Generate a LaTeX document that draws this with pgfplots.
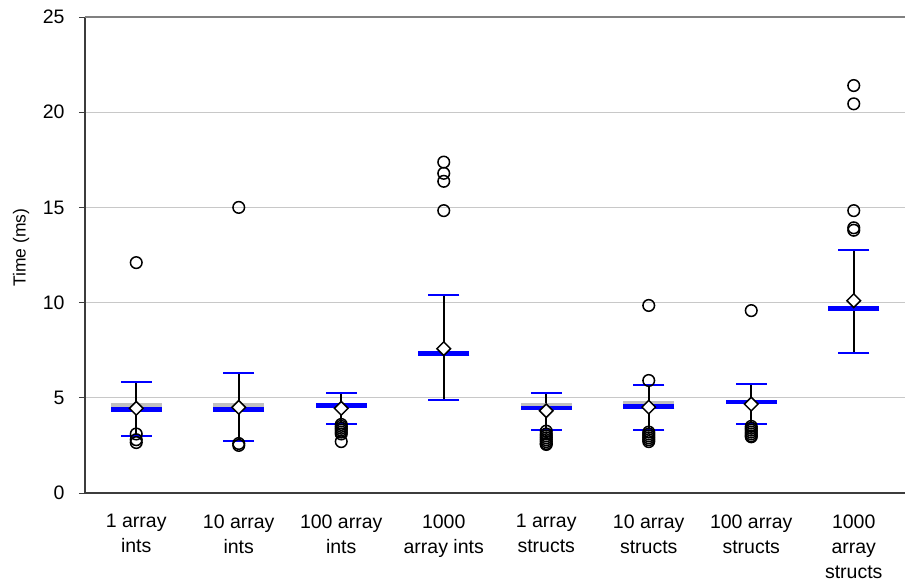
\documentclass[border=0pt]{standalone}
\usepackage{pgfplots}
\pgfplotsset{compat=1.18}
\usepackage{fontspec}
\setmainfont{Liberation Sans}
\definecolor{gridgray}{RGB}{200,200,200}
\definecolor{medgray}{RGB}{192,192,192}
\definecolor{axisdark}{RGB}{60,60,60}
\begin{document}
\begin{tikzpicture}
\begin{axis}[
  scale only axis, width=820pt, height=476pt,
  xmin=-0.5, xmax=7.5, ymin=0, ymax=25,
  ytick={0,5,10,15,20,25},
  xtick={0,1,2,3,4,5,6,7},
  xticklabels={{1 array\\ints},{10 array\\ints},{100 array\\ints},{1000\\array ints},{1 array\\structs},{10 array\\structs},{100 array\\structs},{1000\\array\\structs}},
  xtick style={draw=none},
  ytick pos=left,
  ytick style={draw=axisdark, line width=0.9pt},
  tick align=outside, major tick length=6pt,
  axis line style={draw=none},
  ymajorgrids, grid style={gridgray, line width=1pt},
  /pgf/number format/assume math mode=true,
  yticklabel style={font=\fontsize{19.5}{23}\selectfont, xshift=-11pt},
  xticklabel style={font=\fontsize{19.5}{25}\selectfont, align=center, yshift=-12pt},
  ylabel={Time (ms)},
  every axis y label/.style={at={(axis description cs:-0.078,0.515)}, rotate=90, anchor=center, font=\fontsize{17.5}{20}\selectfont},
  clip=false,
]
\draw[axisdark, line width=1.3pt] (rel axis cs:0,0) -- (rel axis cs:0,1);
\draw[gray, line width=1.4pt] (rel axis cs:0,1) -- (rel axis cs:1,1);
\draw[axisdark, line width=2pt] (rel axis cs:0,0) -- (rel axis cs:1,0);

% whiskers (bottom cap to top cap)
\addplot[black, line width=2pt, no marks, unbounded coords=jump] coordinates {
 (0,3.02) (0,5.81) (0,nan)
 (1,2.74) (1,6.28) (1,nan)
 (2,3.65) (2,5.25) (2,nan)
 (3,4.86) (3,10.4) (3,nan)
 (4,3.32) (4,5.26) (4,nan)
 (5,3.30) (5,5.68) (5,nan)
 (6,3.62) (6,5.72) (6,nan)
 (7,7.35) (7,12.77)
};

% gray bars
\addplot[only marks, mark=-, mark size=25.5pt, mark options={draw=medgray, line width=4.3pt}] coordinates {
 (0,4.62) (1,4.62) (4,4.60) (5,4.72)
};

% blue bars
\addplot[only marks, mark=-, mark size=25.5pt, mark options={draw=blue, line width=4.6pt}] coordinates {
 (0,4.39) (1,4.40) (2,4.60) (3,7.33) (4,4.46) (5,4.54) (6,4.77) (7,9.70)
};

% caps
\addplot[only marks, mark=-, mark size=15.5pt, mark options={draw=blue, line width=2pt}] coordinates {
 (0,5.81) (1,6.28) (2,5.25) (3,10.4) (4,5.26) (5,5.68) (6,5.72) (7,12.77)
 (0,3.02) (1,2.74) (2,3.65) (3,4.86) (4,3.32) (5,3.30) (6,3.62) (7,7.35)
};

% outliers
\addplot[only marks, mark=o, mark size=5.8pt, mark options={draw=black, line width=1.5pt}] coordinates {
 (0,12.1) (0,3.1) (0,2.8) (0,2.65)
 (1,15.0) (1,2.6) (1,2.5)
 (2,3.6) (2,3.5) (2,3.4) (2,3.3) (2,3.2) (2,3.1) (2,2.7)
 (3,17.38) (3,16.79) (3,16.37) (3,14.83)
 (4,3.25) (4,3.1) (4,3.0) (4,2.9) (4,2.8) (4,2.7) (4,2.6) (4,2.55)
 (5,9.85) (5,5.91) (5,3.2) (5,3.1) (5,3.0) (5,2.9) (5,2.8) (5,2.7)
 (6,9.58) (6,3.5) (6,3.4) (6,3.3) (6,3.2) (6,3.1) (6,3.0) (6,2.95)
 (7,21.4) (7,20.44) (7,14.83) (7,13.93) (7,13.8)
};

% means (diamonds)
\addplot[only marks, mark=square*, mark size=4.8pt, mark options={rotate=45, draw=black, fill=white, line width=1.5pt}] coordinates {
 (0,4.45) (1,4.50) (2,4.45) (3,7.58) (4,4.32) (5,4.51) (6,4.67) (7,10.1)
};
\end{axis}
\pgfresetboundingbox
\useasboundingbox (-85pt,-91pt) rectangle (820pt,493pt);
\end{tikzpicture}
\end{document}
